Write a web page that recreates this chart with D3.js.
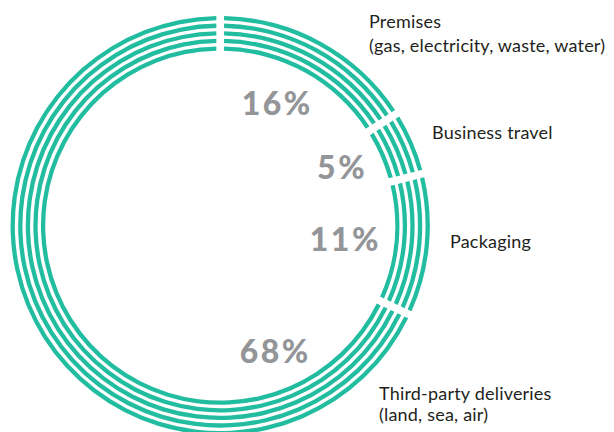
<!DOCTYPE html>
<html><head><meta charset="utf-8">
<script src="https://cdn.jsdelivr.net/npm/d3@7"></script>
<style>
html,body{margin:0;padding:0;background:#fff;}
svg{display:block;}
</style>
</head><body>
<svg id="c" width="614" height="432"></svg>
<script>
const categories = ["Premises", "Business travel", "Packaging", "Third-party deliveries"];
const subtitles = ["(gas, electricity, waste, water)", "", "", "(land, sea, air)"];
const values = [16, 5, 11, 68];
const percentLabels = ["16%", "5%", "11%", "68%"];

const svg = d3.select("#c");
const cx = 220.2, cy = 225.6;
const ringCount = 5, outerR = 207.5, step = 7.6, thick = 4.3;
const teal = "#22BDA0";

const pie = d3.pie().sort(null).value(d => d).startAngle(0).endAngle(2*Math.PI);
const arcs = pie(values);

const g = svg.append("g").attr("transform", `translate(${cx},${cy})`);
d3.range(ringCount).forEach(i => {
  const rc = outerR - step * i;
  const arc = d3.arc().innerRadius(rc - thick/2).outerRadius(rc + thick/2)
    .padAngle(0.077).padRadius(100);
  g.selectAll(null).data(arcs).join("path")
    .attr("d", arc).attr("fill", teal);
});

// percent labels: placed along angle from centre
const labelLayout = [
  {ang: 25.2, r: 134, dy: 11},
  {ang: 64.6, r: 135, dy: 11},
  {ang: 96.6, r: 126, dy: 11},
  {ang: 156.5, r: 138, dy: 11}
];
g.selectAll("text.pct").data(arcs).join("text")
  .attr("class", "pct")
  .attr("x", (d, i) => labelLayout[i].r * Math.sin(labelLayout[i].ang * Math.PI/180))
  .attr("y", (d, i) => -labelLayout[i].r * Math.cos(labelLayout[i].ang * Math.PI/180) + labelLayout[i].dy)
  .attr("text-anchor", "middle")
  .attr("font-family", "Lato, 'Open Sans', sans-serif")
  .attr("font-weight", 900)
  .attr("font-size", 32)
  .attr("letter-spacing", 2.5)
  .attr("fill", "#939598")
  .text((d, i) => percentLabels[i]);

// category labels
const catLayout = [
  {x: 369, y: 28},
  {x: 432, y: 139},
  {x: 450, y: 248},
  {x: 379, y: 400}
];
categories.forEach((c, i) => {
  const t = svg.append("text")
    .attr("x", catLayout[i].x).attr("y", catLayout[i].y)
    .attr("font-family", "Lato, 'Open Sans', sans-serif")
    .attr("font-size", 18)
    .attr("letter-spacing", 0.2)
    .attr("fill", "#231F20");
  t.append("tspan").attr("x", catLayout[i].x).text(c);
  if (subtitles[i]) t.append("tspan").attr("x", catLayout[i].x).attr("dy", i === 0 ? 24 : 21).text(subtitles[i]);
});
</script>
</body></html>
